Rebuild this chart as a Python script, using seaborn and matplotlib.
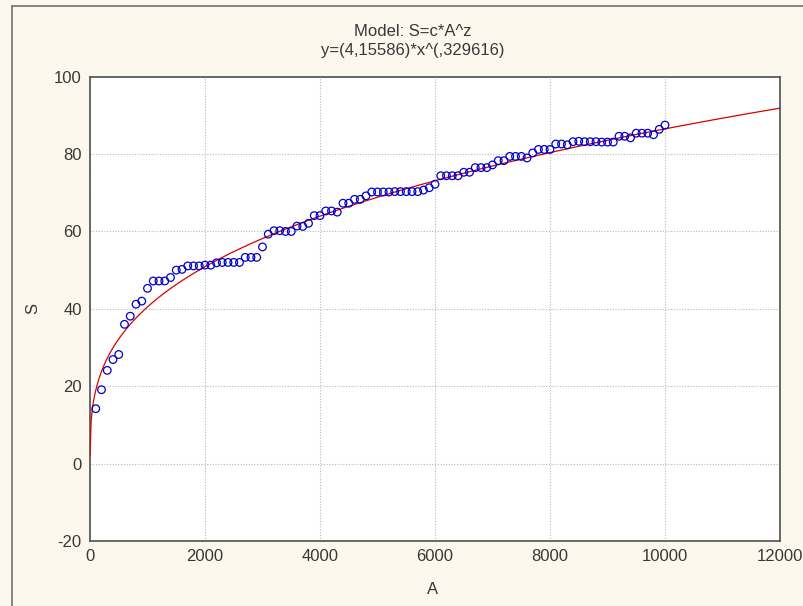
"""Power model fit S = c*A^z with observed points."""
import numpy as np
import pandas as pd
import seaborn as sns
import matplotlib.pyplot as plt
from matplotlib.lines import Line2D

# observed area (A) and species count (S)
area = list(range(100, 10001, 100))
species = [
    14.2, 19.1, 24.1, 26.9, 28.2, 36.0, 38.1, 41.2, 42.0, 45.3,
    47.2, 47.2, 47.2, 48.1, 50.0, 50.2, 51.1, 51.1, 51.1, 51.3,
    51.3, 51.9, 52.0, 52.0, 52.0, 52.0, 53.3, 53.3, 53.3, 56.0,
    59.3, 60.2, 60.2, 60.0, 60.0, 61.4, 61.3, 62.1, 64.1, 64.1,
    65.3, 65.3, 65.0, 67.3, 67.3, 68.3, 68.3, 69.2, 70.2, 70.2,
    70.2, 70.2, 70.3, 70.3, 70.3, 70.3, 70.3, 70.7, 71.3, 72.2,
    74.4, 74.4, 74.4, 74.4, 75.3, 75.3, 76.5, 76.5, 76.5, 77.2,
    78.3, 78.3, 79.4, 79.4, 79.4, 79.0, 80.3, 81.2, 81.2, 81.2,
    82.6, 82.6, 82.4, 83.2, 83.3, 83.2, 83.2, 83.2, 83.1, 83.1,
    83.1, 84.6, 84.6, 84.2, 85.4, 85.4, 85.4, 85.0, 86.4, 87.5,
]

# fitted model parameters (from the title)
c_fit = 4.15586
z_fit = 0.329616

xticks = [0, 2000, 4000, 6000, 8000, 10000, 12000]
yticks = [-20, 0, 20, 40, 60, 80, 100]

df = pd.DataFrame({"A": area, "S": species})
a_line = np.linspace(0.1, 12000, 600)
fit = pd.DataFrame({"A": a_line, "S": c_fit * a_line ** z_fit})

sns.set_style("white")
plt.rcParams["font.family"] = ["Liberation Sans", "DejaVu Sans"]
plt.rcParams["axes.unicode_minus"] = False

bg = "#FCF8ED"
fs = 12
txt = "#383838"
fig = plt.figure(figsize=(8.04, 6.06), dpi=100, facecolor=bg)
# outer frame: only left and top edges are visible in the picture
fx, fy = 12 / 804, 1 - 6 / 606
fig.lines.append(Line2D([fx, fx], [0, fy], transform=fig.transFigure,
                        color="#707070", linewidth=1.2))
fig.lines.append(Line2D([fx, 1], [fy, fy], transform=fig.transFigure,
                        color="#707070", linewidth=1.2))

ax = fig.add_axes([90 / 804, 1 - 541 / 606, 690 / 804, 464.3 / 606])
ax.set_facecolor("white")

sns.lineplot(data=fit, x="A", y="S", ax=ax, color="#D80000", linewidth=0.9,
             zorder=3)
sns.scatterplot(data=df, x="A", y="S", ax=ax, marker="o", s=30,
                facecolors="none", edgecolor="#0000C8", linewidth=0.9,
                zorder=4)

ax.set_xlim(0, 12000)
ax.set_ylim(-20, 100)
ax.set_xticks(xticks)
ax.set_yticks(yticks)
ax.grid(True, color="#B8B8B8", linestyle=(0, (1, 1.5)), linewidth=0.8)
ax.tick_params(direction="in", length=3, width=0.8, colors="#505050",
               labelcolor=txt, labelsize=fs, pad=6)
for s in ax.spines.values():
    s.set_color("#505050")
    s.set_linewidth(1.2)

ax.set_xlabel("")
ax.set_ylabel("")
fig.text(433 / 804, 1 - 589 / 606, "A", ha="center", va="center",
         fontsize=fs, color=txt)
fig.text(33 / 804, 1 - 308 / 606, "S", ha="center", va="center",
         rotation=90, fontsize=fs, color=txt)
fig.text(413 / 804, 1 - 31 / 606, "Model: S=c*A^z", ha="center",
         va="center", fontsize=fs, color=txt)
fig.text(413 / 804, 1 - 50 / 606, "y=(4,15586)*x^(,329616)", ha="center",
         va="center", fontsize=fs, color=txt)

fig.savefig("out.png", dpi=100, facecolor=bg)
